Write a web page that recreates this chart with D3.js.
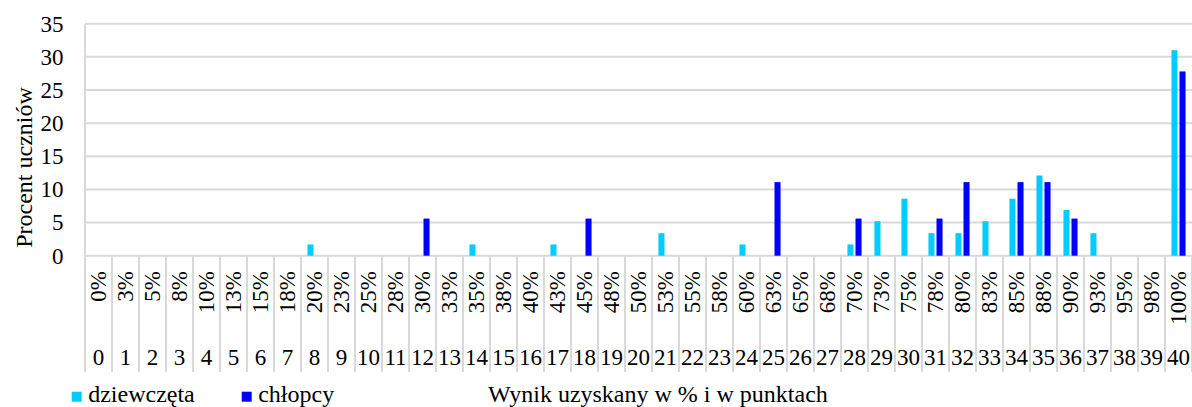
<!DOCTYPE html>
<html>
<head>
<meta charset="utf-8">
<script src="https://cdn.jsdelivr.net/npm/d3@7"></script>
<style>
  html, body { margin: 0; padding: 0; background: #fff; }
  svg { display: block; }
</style>
</head>
<body>
<svg id="chart" width="1192" height="407"></svg>
<script>
// ---- data ----
const points = ["0","1","2","3","4","5","6","7","8","9","10","11","12","13","14","15","16","17","18","19","20",
  "21","22","23","24","25","26","27","28","29","30","31","32","33","34","35","36","37","38","39","40"];
const percentLabels = ["0%","3%","5%","8%","10%","13%","15%","18%","20%","23%","25%","28%","30%","33%","35%","38%","40%",
  "43%","45%","48%","50%","53%","55%","58%","60%","63%","65%","68%","70%","73%","75%","78%","80%","83%","85%","88%",
  "90%","93%","95%","98%","100%"];
const girls = [0,0,0,0,0,0,0,0,1.7,0, 0,0,0,0,1.7,0,0,1.7,0,0, 0,3.4,0,0,1.7,0,0,0,1.7,5.2,
  8.6,3.4,3.4,5.2,8.6,12.1,6.9,3.4,0,0, 31.0];
const boys = [0,0,0,0,0,0,0,0,0,0, 0,0,5.6,0,0,0,0,0,5.6,0, 0,0,0,0,0,11.1,0,0,5.6,0,
  0,5.6,11.1,0,11.1,11.1,5.6,0,0,0, 27.8];
const seriesNames = ["dziewczęta", "chłopcy"];
const yTicks = [0,5,10,15,20,25,30,35];
const yTitle = "Procent uczniów";
const xTitle = "Wynik uzyskany w % i w punktach";

// ---- styles ----
const colors = { "dziewczęta": "#00CCFF", "chłopcy": "#0000FF" };
const gridColor = "#D9D9D9";
const tickFont = 23;
const titleFont = 24;
const FONT = "'Liberation Serif', Tinos, 'Times New Roman', 'DejaVu Serif', serif";

const svg = d3.select("#chart").attr("font-family", FONT);
const plotLeft = 85, plotRight = 1192, plotTop = 23.7, plotBottom = 255.7;

const x0 = d3.scaleBand().domain(points).range([plotLeft, plotRight]).padding(0);
const x1 = d3.scaleBand().domain(seriesNames).range([0, x0.bandwidth()])
  .paddingInner(0.25).paddingOuter(0.8);
const y = d3.scaleLinear().domain([0, 35]).range([plotBottom, plotTop]);

// horizontal gridlines
svg.append("g").selectAll("line").data(yTicks).join("line")
  .attr("x1", plotLeft).attr("x2", plotRight)
  .attr("y1", d => y(d)).attr("y2", d => y(d))
  .attr("stroke", gridColor).attr("stroke-width", 2);

// left border line
svg.append("line")
  .attr("x1", plotLeft).attr("x2", plotLeft)
  .attr("y1", plotTop).attr("y2", 372)
  .attr("stroke", gridColor).attr("stroke-width", 2);

// category separators below axis
svg.append("g").selectAll("line").data(points.slice(1).concat(["__end"])).join("line")
  .attr("x1", d => d === "__end" ? plotRight : x0(d))
  .attr("x2", d => d === "__end" ? plotRight : x0(d))
  .attr("y1", plotBottom).attr("y2", 372)
  .attr("stroke", gridColor).attr("stroke-width", 2);

// y axis tick labels
const yAxis = d3.axisLeft(y).tickValues(yTicks).tickSize(0).tickPadding(0);
const yg = svg.append("g").attr("transform", `translate(63.5,0)`).call(yAxis)
  .attr("font-family", FONT).attr("font-size", tickFont);
yg.select(".domain").remove();
yg.selectAll("text").attr("font-family", FONT).attr("font-size", tickFont).attr("fill", "#000");

// bars
const rows = points.map((p, i) => ({ p, vals: [
  { s: seriesNames[0], v: girls[i] },
  { s: seriesNames[1], v: boys[i] } ] }));
const groups = svg.append("g").selectAll("g").data(rows).join("g")
  .attr("transform", d => `translate(${x0(d.p)},0)`);
groups.selectAll("rect").data(d => d.vals.filter(e => e.v > 0)).join("rect")
  .attr("x", d => x1(d.s))
  .attr("width", x1.bandwidth())
  .attr("y", d => y(d.v))
  .attr("height", d => y(0) - y(d.v))
  .attr("fill", d => colors[d.s]);

// percent labels (rotated)
svg.append("g").selectAll("text").data(points).join("text")
  .attr("transform", d => `translate(${x0(d) + x0.bandwidth() / 2},271) rotate(-90)`)
  .attr("text-anchor", "end")
  .attr("dy", "0.34em")
  .attr("font-family", FONT)
  .attr("font-size", tickFont)
  .text((d, i) => percentLabels[i]);

// point labels
svg.append("g").selectAll("text").data(points).join("text")
  .attr("x", d => x0(d) + x0.bandwidth() / 2)
  .attr("y", 364.5)
  .attr("text-anchor", "middle")
  .attr("font-family", FONT)
  .attr("font-size", tickFont)
  .text(d => d);

// y title
svg.append("text")
  .attr("transform", "translate(31.5,167.5) rotate(-90)")
  .attr("text-anchor", "middle")
  .attr("font-family", FONT)
  .attr("font-size", titleFont)
  .text(yTitle);

// legend
const legendX = [71.7, 241.7];
seriesNames.forEach((s, i) => {
  svg.append("rect").attr("x", legendX[i]).attr("y", 391.7)
    .attr("width", 10).attr("height", 10).attr("fill", colors[s]);
  svg.append("text").attr("x", legendX[i] + 16.5).attr("y", 402)
    .attr("font-family", FONT).attr("font-size", titleFont).text(s);
});
svg.append("text").attr("x", 488).attr("y", 402)
  .attr("font-family", FONT).attr("font-size", titleFont).text(xTitle);
</script>
</body>
</html>
